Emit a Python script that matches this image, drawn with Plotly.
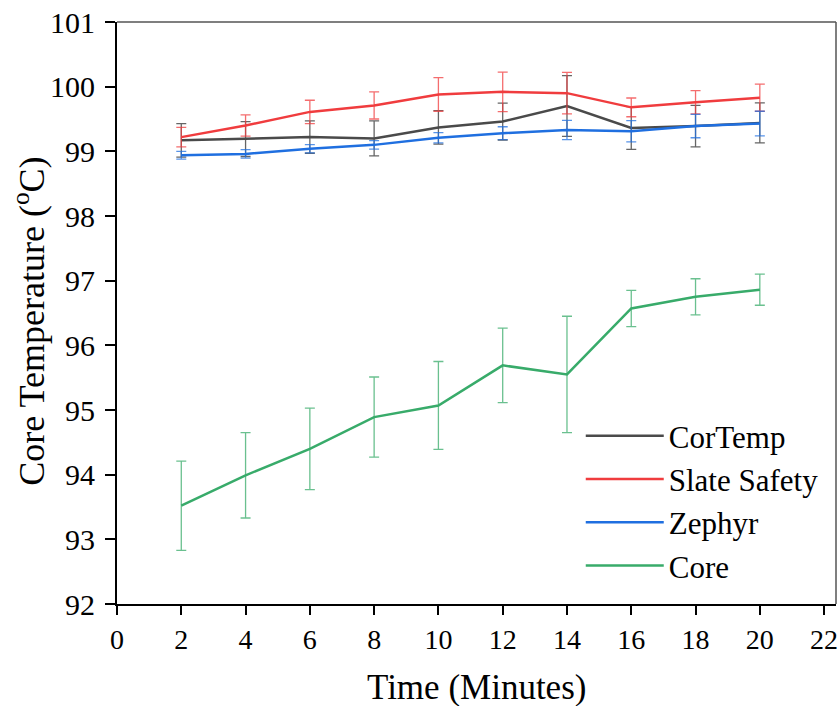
import plotly.graph_objects as go

time_min = [2, 4, 6, 8, 10, 12, 14, 16, 18, 20]

cortemp = [99.17, 99.19, 99.22, 99.20, 99.37, 99.46, 99.70, 99.36, 99.39, 99.44]
cortemp_err = [0.26, 0.27, 0.25, 0.27, 0.26, 0.285, 0.47, 0.33, 0.32, 0.31]

slate = [99.22, 99.40, 99.61, 99.71, 99.88, 99.92, 99.90, 99.68, 99.76, 99.83]
slate_err = [0.15, 0.165, 0.18, 0.21, 0.26, 0.305, 0.32, 0.145, 0.18, 0.21]

zephyr = [98.94, 98.96, 99.04, 99.10, 99.21, 99.28, 99.33, 99.31, 99.39, 99.43]
zephyr_err = [0.06, 0.065, 0.065, 0.065, 0.08, 0.10, 0.15, 0.165, 0.18, 0.19]

core = [93.52, 93.99, 94.40, 94.89, 95.07, 95.69, 95.55, 96.57, 96.75, 96.86]
core_err = [0.69, 0.66, 0.63, 0.62, 0.68, 0.575, 0.90, 0.28, 0.28, 0.24]

x_ticks = [0, 2, 4, 6, 8, 10, 12, 14, 16, 18, 20, 22]
y_ticks = [92, 93, 94, 95, 96, 97, 98, 99, 100, 101]

x_title = "Time (Minutes)"
y_title = "Core Temperature (<sup>o</sup>C)"

series = [
    ("CorTemp", cortemp, cortemp_err, "#4a4a4a", "rgba(74,74,74,0.85)"),
    ("Slate Safety", slate, slate_err, "#f03c3e", "rgba(240,60,62,0.75)"),
    ("Zephyr", zephyr, zephyr_err, "#1f6fe0", "rgba(31,111,224,0.75)"),
    ("Core", core, core_err, "#38ab6a", "rgba(56,171,106,0.75)"),
]

FONT = "Liberation Serif"

fig = go.Figure()
for name, vals, errs, col, ecol in series:
    fig.add_trace(go.Scatter(
        x=time_min, y=vals, name=name, mode="lines",
        line=dict(color=col, width=2.5),
        error_y=dict(type="data", array=errs, visible=True,
                     color=ecol, thickness=1.3, width=5),
    ))

fig.update_layout(
    width=838, height=706,
    margin=dict(l=117, r=2, t=22, b=102),
    paper_bgcolor="white", plot_bgcolor="white",
    font=dict(family=FONT, color="black"),
    showlegend=True,
    legend=dict(
        x=0.645, y=0.335, xanchor="left", yanchor="top",
        font=dict(family=FONT, size=31, color="black"),
        bgcolor="rgba(0,0,0,0)", itemwidth=78,
    ),
    xaxis=dict(
        range=[0, 22.37], tickvals=x_ticks,
        ticks="outside", ticklen=9, tickwidth=1.5, tickcolor="black",
        showline=True, linecolor="black", linewidth=2,
        showgrid=False, zeroline=False,
        tickfont=dict(family=FONT, size=28),
        ticklabeloverflow="allow",
        automargin=False,
    ),
    yaxis=dict(
        range=[92, 101], tickvals=y_ticks,
        ticks="outside", ticklen=10, tickwidth=1.5, tickcolor="black",
        showline=True, linecolor="black", linewidth=2,
        showgrid=False, zeroline=False,
        tickfont=dict(family=FONT, size=30),
        ticklabelstandoff=4,
        automargin=False,
    ),
    annotations=[
        dict(text=x_title, xref="paper", yref="paper", x=0.5, y=-0.143,
             xanchor="center", yanchor="middle", showarrow=False,
             font=dict(family=FONT, size=35, color="black")),
        dict(text=y_title, xref="paper", yref="paper", x=-0.121, y=0.485,
             xanchor="center", yanchor="middle", showarrow=False, textangle=-90,
             font=dict(family=FONT, size=36, color="black")),
    ],
    shapes=[
        dict(type="line", xref="paper", yref="paper", x0=0, x1=1, y0=1, y1=1,
             line=dict(color="#555555", width=1.5)),
        dict(type="line", xref="paper", yref="paper", x0=1, x1=1, y0=0, y1=1,
             line=dict(color="#555555", width=1.5)),
    ],
)

fig.write_html("out.html")
